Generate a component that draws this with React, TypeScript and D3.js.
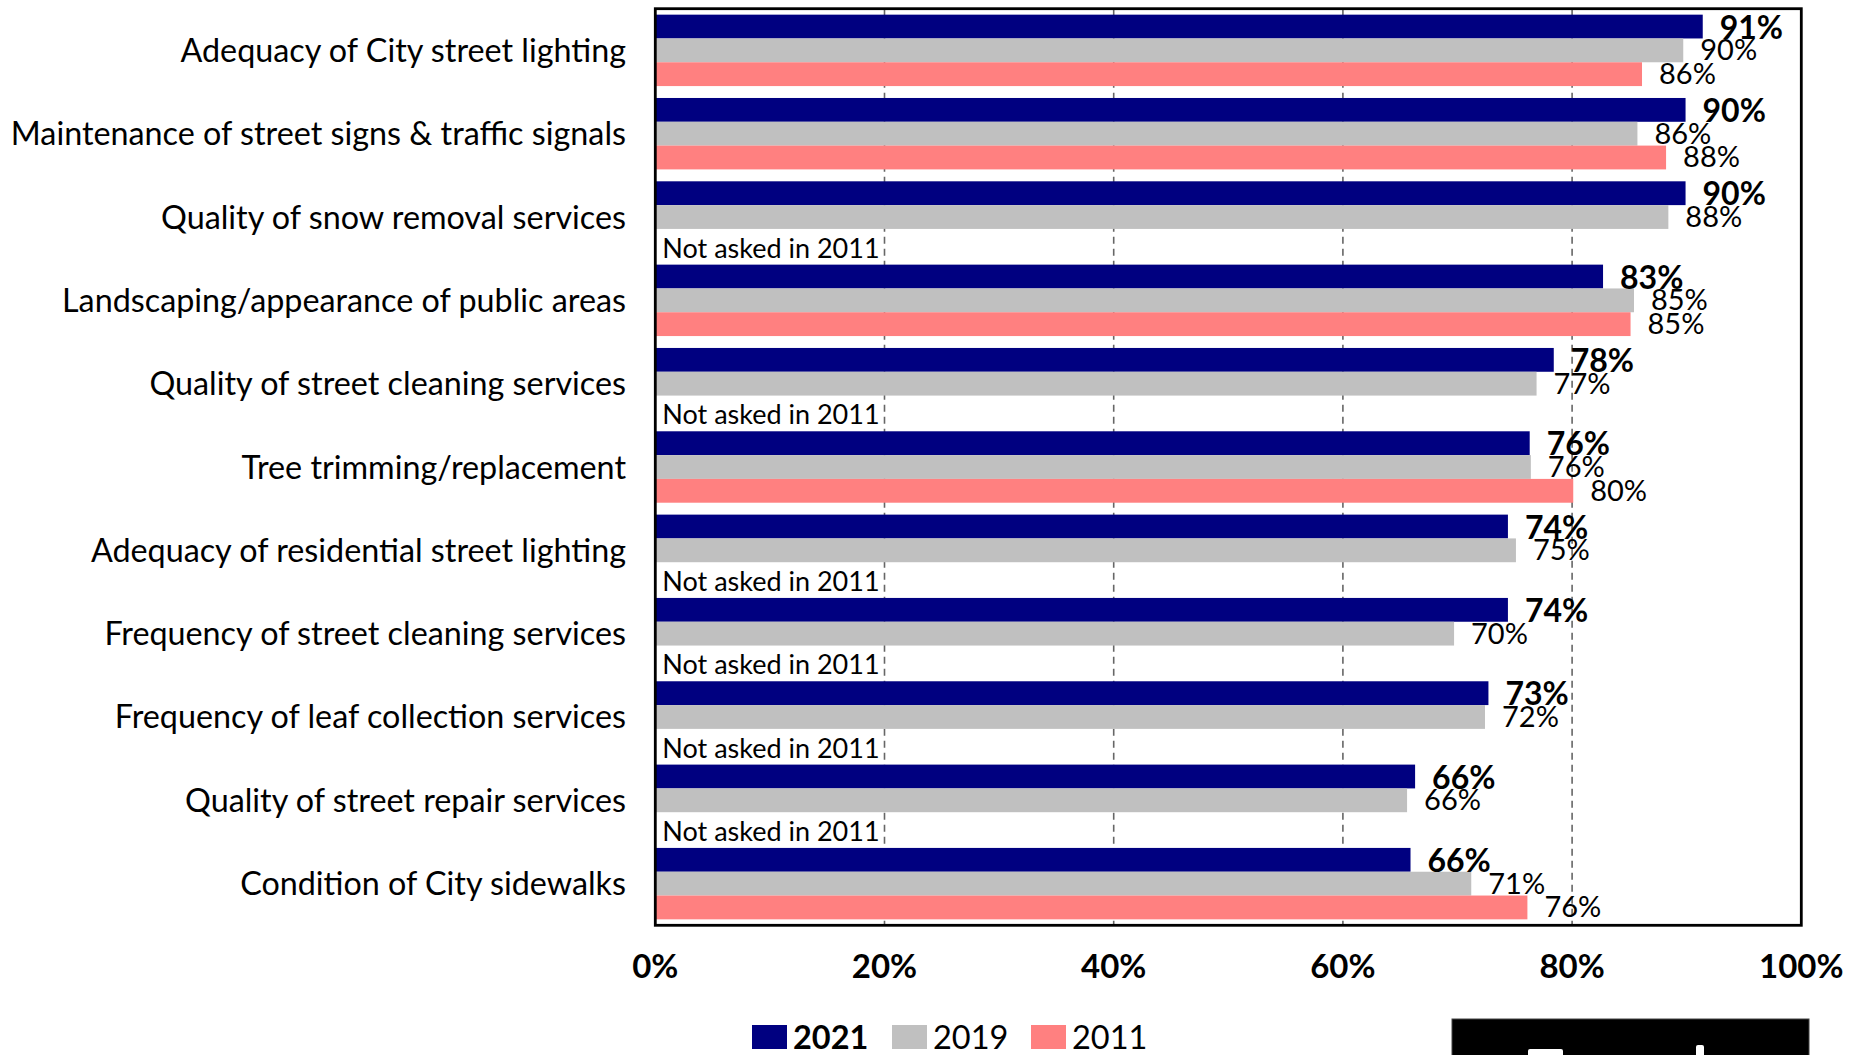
import React from "react";
import * as d3 from "d3";

const categories = [
  "Adequacy of City street lighting",
  "Maintenance of street signs & traffic signals",
  "Quality of snow removal services",
  "Landscaping/appearance of public areas",
  "Quality of street cleaning services",
  "Tree trimming/replacement",
  "Adequacy of residential street lighting",
  "Frequency of street cleaning services",
  "Frequency of leaf collection services",
  "Quality of street repair services",
  "Condition of City sidewalks",
];

const seriesNames = ["2021", "2019", "2011"];

const values2021 = [91.4, 89.9, 89.9, 82.7, 78.4, 76.3, 74.4, 74.4, 72.7, 66.3, 65.9];
const values2019 = [89.7, 85.7, 88.4, 85.4, 76.9, 76.4, 75.1, 69.7, 72.4, 65.6, 71.2];
const values2011: (number | null)[] = [86.1, 88.2, null, 85.1, null, 80.1, null, null, null, null, 76.1];

const xTicks = [0, 20, 40, 60, 80, 100];
const notAskedText = "Not asked in 2011";

const COLORS = ["#000080", "#C0C0C0", "#FF8080"];
const FONT = "Lato, 'Noto Sans', sans-serif";

export default function App() {
  const W = 1862;
  const H = 1055;
  const left = 655.3;
  const right = 1801.3;
  const top = 8.7;
  const bottom = 925.3;

  const x = d3.scaleLinear().domain([0, 100]).range([left, right]);
  const y = d3.scaleBand<string>().domain(categories).range([top, bottom]).paddingInner(0).paddingOuter(0);
  const sub = d3
    .scaleBand<string>()
    .domain(seriesNames)
    .range([0, y.bandwidth()])
    .paddingInner(0)
    .paddingOuter(0.25);
  const bh = sub.bandwidth();
  const fmt = (v: number) => `${Math.round(v)}%`;

  const allSeries = [values2021, values2019, values2011];

  const legendItems = [
    { name: seriesNames[0], color: COLORS[0], bold: true, x: 752 },
    { name: seriesNames[1], color: COLORS[1], bold: false, x: 892 },
    { name: seriesNames[2], color: COLORS[2], bold: false, x: 1031 },
  ];

  return (
    <svg
      width={W}
      height={H}
      viewBox={`0 0 ${W} ${H}`}
      style={{ position: "absolute", left: 0, top: 0, display: "block", background: "#fff" }}
      fontFamily={FONT}
    >
      <rect x={0} y={0} width={W} height={H} fill="#fff" />
      {/* gridlines */}
      {xTicks
        .filter((t) => t > 0 && t < 100)
        .map((t) => (
          <line
            key={`g${t}`}
            x1={x(t)}
            x2={x(t)}
            y1={top}
            y2={bottom}
            stroke="#666"
            strokeWidth={1.6}
            strokeDasharray="7,5"
          />
        ))}
      {/* bars */}
      {categories.map((c, i) => (
        <g key={c}>
          {allSeries.map((arr, s) => {
            const v = arr[i];
            if (v == null) return null;
            const yy = (y(c) as number) + (sub(seriesNames[s]) as number);
            return (
              <rect key={s} x={x(0)} y={yy} width={x(v) - x(0)} height={bh} fill={COLORS[s]} />
            );
          })}
        </g>
      ))}
      {/* value labels */}
      {categories.map((c, i) => (
        <g key={`l${c}`}>
          {allSeries.map((arr, s) => {
            const v = arr[i];
            const yy = (y(c) as number) + (sub(seriesNames[s]) as number) + bh / 2;
            if (v == null) {
              return (
                <text key={s} x={x(0) + 7} y={yy + 17} fontSize={27} fill="#000">
                  {notAskedText}
                </text>
              );
            }
            const bold = s === 0;
            return (
              <text
                key={s}
                x={x(v) + 17}
                y={yy + (bold ? 12 : 10)}
                fontSize={bold ? 32 : 29}
                fontWeight={bold ? 700 : 400}
                fill="#000"
              >
                {fmt(v)}
              </text>
            );
          })}
        </g>
      ))}
      {/* frame */}
      <rect x={left} y={top} width={right - left} height={bottom - top} fill="none" stroke="#000" strokeWidth={2.8} />
      {/* category labels */}
      {categories.map((c) => (
        <text
          key={`c${c}`}
          x={626}
          y={(y(c) as number) + y.bandwidth() / 2 + 11.5}
          textAnchor="end"
          fontSize={32.3}
          fill="#000"
        >
          {c}
        </text>
      ))}
      {/* x tick labels */}
      {xTicks.map((t) => (
        <text key={`t${t}`} x={x(t)} y={978} textAnchor="middle" fontSize={33} fontWeight={700} fill="#000">
          {`${t}%`}
        </text>
      ))}
      {/* legend */}
      {legendItems.map((it) => (
        <g key={it.name}>
          <rect x={it.x} y={1025} width={35} height={24} fill={it.color} />
          <text x={it.x + 41} y={1049} fontSize={32.5} fontWeight={it.bold ? 700 : 400} fill="#000">
            {it.name}
          </text>
        </g>
      ))}
      {/* black box at bottom right */}
      <rect x={1452} y={1019} width={357} height={40} fill="#000" stroke="#444" strokeWidth={1} />
      <rect x={1528} y={1049} width={35} height={12} rx={2} fill="#fff" />
      <rect x={1696} y={1045} width={8} height={14} rx={2} fill="#fff" />
    </svg>
  );
}
